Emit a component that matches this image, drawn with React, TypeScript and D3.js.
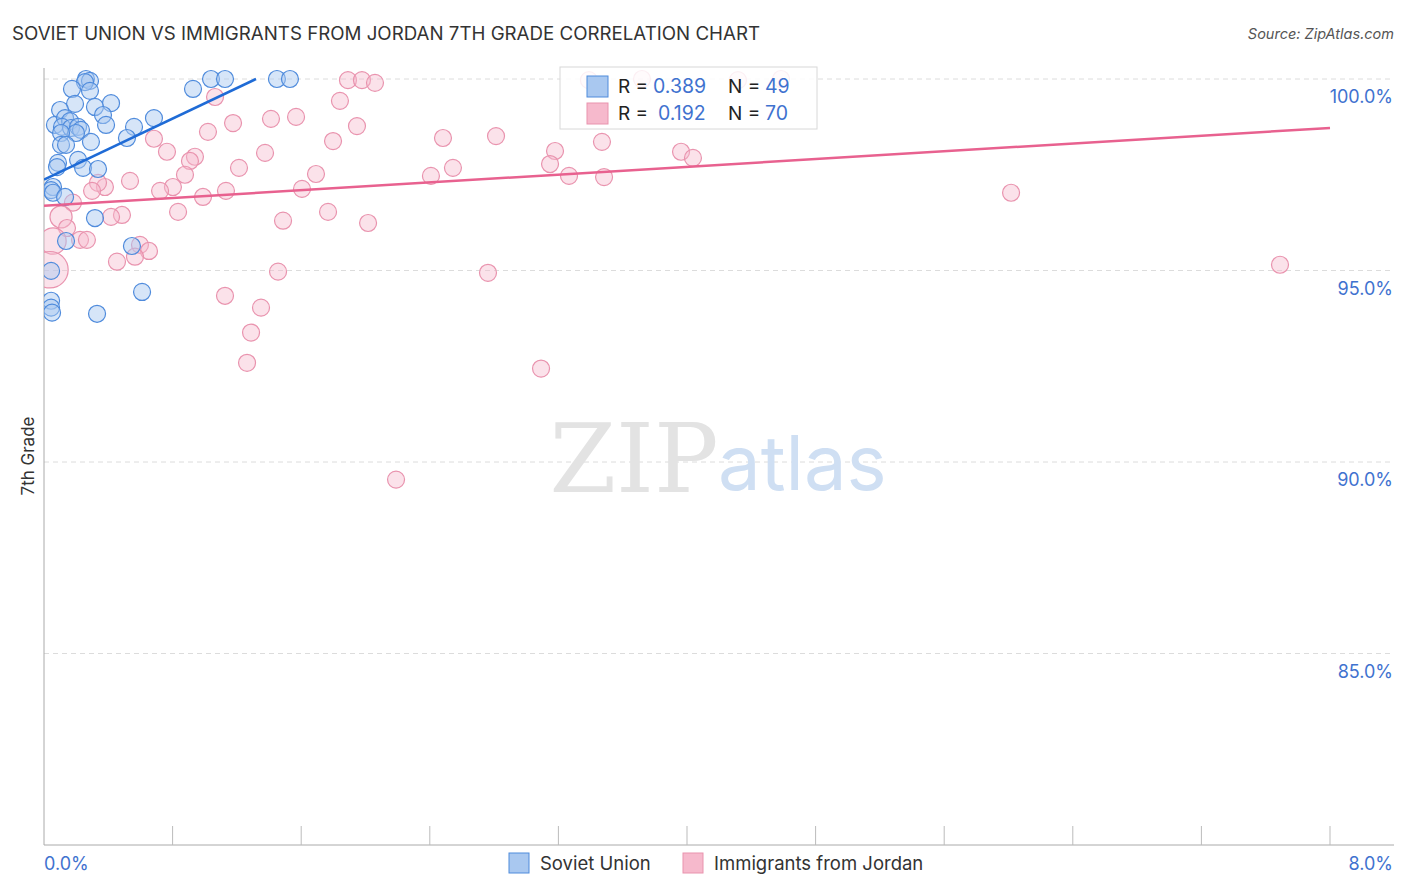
import * as d3 from 'd3';
import React, { useEffect, useRef } from 'react';

// Soviet Union points: [x %, y %]
const sovietX = [0.261, 0.286, 0.255, 0.174, 0.286, 0.417, 0.193, 0.317, 0.1, 0.367, 0.386, 0.068, 0.131, 0.162, 0.112, 0.168, 0.212, 0.23, 0.199, 0.106, 0.292, 0.106, 0.137, 0.56, 0.516, 0.684, 0.212, 0.087, 0.081, 0.243, 0.336, 0.056, 0.044, 0.056, 0.131, 0.317, 0.137, 0.547, 0.044, 0.61, 0.044, 0.044, 0.05, 0.33, 0.927, 1.039, 1.126, 1.449, 1.53];
const sovietY = [100.0, 99.95, 99.92, 99.74, 99.69, 99.37, 99.35, 99.27, 99.19, 99.06, 98.8, 98.8, 98.98, 98.9, 98.75, 98.72, 98.75, 98.67, 98.59, 98.59, 98.36, 98.28, 98.28, 98.75, 98.46, 98.98, 97.89, 97.81, 97.7, 97.68, 97.65, 97.18, 97.1, 97.03, 96.92, 96.37, 95.77, 95.64, 94.99, 94.44, 94.21, 94.03, 93.9, 93.87, 99.74, 100.0, 100.0, 100.0, 100.0];

// Immigrants from Jordan points
const jordanX = [1.064, 1.02, 1.176, 1.412, 1.568, 0.684, 0.765, 0.939, 0.908, 0.877, 0.802, 0.722, 0.989, 1.132, 1.213, 1.375, 1.605, 1.692, 0.834, 1.487, 0.535, 0.379, 0.336, 0.299, 0.18, 0.106, 0.143, 0.485, 0.417, 0.056, 0.224, 0.267, 0.597, 0.653, 0.566, 0.454, 0.037, 1.456, 1.126, 1.35, 1.288, 1.263, 1.891, 1.978, 2.059, 1.841, 1.947, 1.798, 1.767, 2.016, 2.482, 2.407, 2.544, 2.812, 3.179, 3.148, 3.266, 3.471, 3.484, 3.963, 4.037, 2.762, 3.092, 2.19, 6.016, 7.689, 3.39, 3.72, 4.317, 4.585];
const jordanY = [99.53, 98.62, 98.85, 98.96, 99.01, 98.44, 98.1, 97.97, 97.86, 97.5, 97.18, 97.08, 96.92, 97.08, 97.68, 98.07, 97.13, 97.52, 96.53, 96.3, 97.34, 97.18, 97.29, 97.08, 96.77, 96.4, 96.11, 96.45, 96.4, 95.77, 95.8, 95.8, 95.67, 95.51, 95.36, 95.23, 95.02, 94.97, 94.34, 94.03, 93.38, 92.59, 99.97, 99.97, 99.9, 99.43, 98.77, 98.38, 96.53, 96.24, 98.46, 97.47, 97.68, 98.51, 98.12, 97.78, 97.47, 98.36, 97.44, 98.1, 97.94, 94.94, 92.44, 89.54, 97.03, 95.15, 99.97, 100.0, 99.97, 100.0];
// relative weight of each Jordan point (bubble size)
const jordanW = [1, 1, 1, 1, 1, 1, 1, 1, 1, 1, 1, 1, 1, 1, 1, 1, 1, 1, 1, 1, 1, 1, 1, 1, 1, 1.7, 1, 1, 1, 2.4, 1, 1, 1, 1, 1, 1, 4.6, 1, 1, 1, 1, 1, 1, 1, 1, 1, 1, 1, 1, 1, 1, 1, 1, 1, 1, 1, 1, 1, 1, 1, 1, 1, 1, 1, 1, 1, 1, 1, 1, 1];

// trend lines: [intercept, slope]
const sovietTrend = [97.37, 1.994];
const jordanTrend = [96.69, 0.254];

const yTicks = [100, 95, 90, 85];
const xTickCount = 10;

const BLUE_FILL = '#a9c8f0';
const BLUE_STROKE = '#4f8bdc';
const BLUE_LINE = '#1f6bd6';
const PINK_FILL = '#f6b9cc';
const PINK_STROKE = '#e993ae';
const PINK_LINE = '#e8618f';
const LABEL_BLUE = '#3f72cf';

const App: React.FC = () => {
  const svgRef = useRef<SVGSVGElement>(null);
  const width = 1406;
  const height = 892;

  useEffect(() => {
    if (!svgRef.current) return;
    const svg = d3.select(svgRef.current);
    svg.selectAll('*').remove();

    const left = 44, right = 1330, top = 68, bottom = 845;
    const x = d3.scaleLinear().domain([0, 8]).range([left, right]);
    const y = d3.scaleLinear().domain([80, 100]).range([bottom, 79]);
    const font = 'Inter, "Noto Sans", sans-serif';

    svg.append('rect').attr('width', width).attr('height', height).attr('fill', '#fff');

    // title
    svg.append('text')
      .attr('x', 12).attr('y', 40)
      .attr('font-family', font).attr('font-size', 18)
      .attr('textLength', 748).attr('lengthAdjust', 'spacingAndGlyphs')
      .attr('fill', '#333')
      .text('SOVIET UNION VS IMMIGRANTS FROM JORDAN 7TH GRADE CORRELATION CHART');

    svg.append('text')
      .attr('x', 1394).attr('y', 39)
      .attr('text-anchor', 'end')
      .attr('font-family', font).attr('font-size', 14.5).attr('font-style', 'italic')
      .attr('fill', '#555')
      .text('Source: ZipAtlas.com');

    // gridlines
    svg.append('g').selectAll('line')
      .data(yTicks)
      .join('line')
      .attr('x1', left).attr('x2', 1394)
      .attr('y1', d => y(d)).attr('y2', d => y(d))
      .attr('stroke', '#dcdcdc').attr('stroke-dasharray', '5,4');

    svg.append('g').selectAll('text')
      .data(yTicks)
      .join('text')
      .attr('x', 1393).attr('y', d => y(d) + 24)
      .attr('text-anchor', 'end')
      .attr('font-family', font).attr('font-size', 18)
      .attr('fill', LABEL_BLUE)
      .text(d => `${d.toFixed(1)}%`);

    // watermark
    svg.append('text')
      .attr('x', 634).attr('y', 492)
      .attr('text-anchor', 'middle')
      .attr('font-family', '"DejaVu Serif", "Liberation Serif", serif')
      .attr('font-size', 96)
      .attr('fill', '#e3e3e3')
      .text('ZIP');
    svg.append('text')
      .attr('x', 718).attr('y', 490)
      .attr('font-family', font).attr('font-size', 76)
      .attr('fill', '#cfdff3')
      .text('atlas');

    // axes
    svg.append('line')
      .attr('x1', left).attr('x2', left).attr('y1', top).attr('y2', bottom)
      .attr('stroke', '#aaa');
    svg.append('line')
      .attr('x1', left).attr('x2', 1394).attr('y1', bottom).attr('y2', bottom)
      .attr('stroke', '#aaa');
    svg.append('g').selectAll('line')
      .data(d3.range(1, xTickCount + 1).map(i => (i * 8) / xTickCount))
      .join('line')
      .attr('x1', d => x(d)).attr('x2', d => x(d))
      .attr('y1', 826).attr('y2', bottom)
      .attr('stroke', '#bbb');

    svg.append('text')
      .attr('x', left).attr('y', 870)
      .attr('font-family', font).attr('font-size', 18)
      .attr('fill', LABEL_BLUE)
      .text('0.0%');
    svg.append('text')
      .attr('x', 1393).attr('y', 870)
      .attr('text-anchor', 'end')
      .attr('font-family', font).attr('font-size', 18)
      .attr('fill', LABEL_BLUE)
      .text('8.0%');

    svg.append('text')
      .attr('transform', `translate(34, 456) rotate(-90)`)
      .attr('text-anchor', 'middle')
      .attr('font-family', font).attr('font-size', 17)
      .attr('fill', '#333')
      .text('7th Grade');

    // plot points (clipped to plot area)
    svg.append('clipPath').attr('id', 'plot-clip')
      .append('rect').attr('x', left).attr('y', top - 10).attr('width', 1394 - left).attr('height', bottom - top + 10);
    const plot = svg.append('g').attr('clip-path', 'url(#plot-clip)');

    const jordan = jordanX.map((v, i) => ({ x: v, y: jordanY[i], r: 8.5 * Math.sqrt(jordanW[i]) }));
    const soviet = sovietX.map((v, i) => ({ x: v, y: sovietY[i], r: 8.5 }));

    plot.append('g').selectAll('circle')
      .data(jordan)
      .join('circle')
      .attr('cx', d => x(d.x)).attr('cy', d => y(d.y)).attr('r', d => d.r)
      .attr('fill', PINK_FILL).attr('fill-opacity', 0.42)
      .attr('stroke', PINK_STROKE).attr('stroke-width', 1.2);

    plot.append('g').selectAll('circle')
      .data(soviet)
      .join('circle')
      .attr('cx', d => x(d.x)).attr('cy', d => y(d.y)).attr('r', d => d.r)
      .attr('fill', BLUE_FILL).attr('fill-opacity', 0.48)
      .attr('stroke', BLUE_STROKE).attr('stroke-width', 1.2);

    // trend lines
    const sovietEnd = (100 - sovietTrend[0]) / sovietTrend[1];
    plot.append('path')
      .datum([0, sovietEnd])
      .attr('d', d3.line<number>().x(d => x(d)).y(d => y(sovietTrend[0] + sovietTrend[1] * d)))
      .attr('stroke', BLUE_LINE).attr('stroke-width', 2.5).attr('fill', 'none');
    plot.append('path')
      .datum([0, 8])
      .attr('d', d3.line<number>().x(d => x(d)).y(d => y(jordanTrend[0] + jordanTrend[1] * d)))
      .attr('stroke', PINK_LINE).attr('stroke-width', 2.5).attr('fill', 'none');

    // legend box
    const lg = svg.append('g');
    lg.append('rect')
      .attr('x', 560).attr('y', 67).attr('width', 257).attr('height', 62)
      .attr('fill', '#fff').attr('fill-opacity', 0.85)
      .attr('stroke', '#d8d8d8');
    const rows = [
      { fill: BLUE_FILL, stroke: BLUE_STROKE, r: '0.389', n: '49', rx: 653 },
      { fill: PINK_FILL, stroke: PINK_STROKE, r: '0.192', n: '70', rx: 658 },
    ];
    rows.forEach((row, i) => {
      const cy = 86 + i * 27;
      lg.append('rect')
        .attr('x', 587).attr('y', cy - 10).attr('width', 21).attr('height', 21)
        .attr('fill', row.fill).attr('stroke', row.stroke).attr('stroke-width', 1);
      lg.append('text')
        .attr('x', 618).attr('y', cy + 7)
        .attr('font-family', font).attr('font-size', 19).attr('fill', '#222')
        .text('R =');
      lg.append('text')
        .attr('x', row.rx).attr('y', cy + 7)
        .attr('font-family', font).attr('font-size', 19.5).attr('fill', LABEL_BLUE)
        .text(row.r);
      lg.append('text')
        .attr('x', 728).attr('y', cy + 7)
        .attr('font-family', font).attr('font-size', 19).attr('fill', '#222')
        .text('N =');
      lg.append('text')
        .attr('x', 765).attr('y', cy + 7)
        .attr('font-family', font).attr('font-size', 19.5).attr('fill', LABEL_BLUE)
        .text(row.n);
    });

    // bottom legend
    const items = [
      { label: 'Soviet Union', fill: BLUE_FILL, stroke: BLUE_STROKE, x: 509 },
      { label: 'Immigrants from Jordan', fill: PINK_FILL, stroke: PINK_STROKE, x: 683 },
    ];
    items.forEach(it => {
      svg.append('rect')
        .attr('x', it.x).attr('y', 853).attr('width', 20).attr('height', 20)
        .attr('fill', it.fill).attr('stroke', it.stroke);
      svg.append('text')
        .attr('x', it.x + 31).attr('y', 870)
        .attr('font-family', font).attr('font-size', 18.5).attr('fill', '#333')
        .text(it.label);
    });
  }, []);

  return (
    <div style={{ position: 'absolute', left: 0, top: 0 }}>
      <svg ref={svgRef} width={width} height={height} style={{ display: 'block' }} />
    </div>
  );
};

export default App;
